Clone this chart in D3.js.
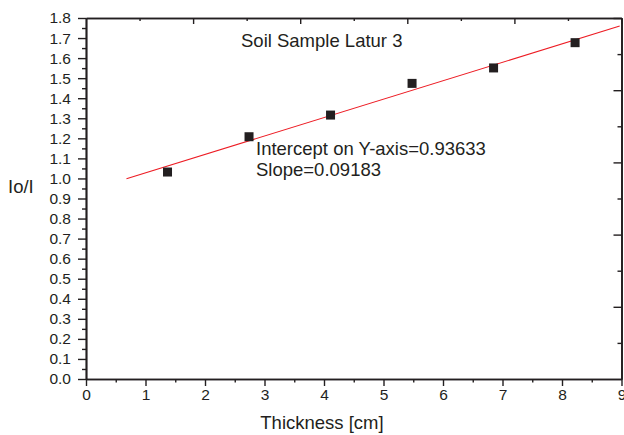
<!DOCTYPE html>
<html>
<head>
<meta charset="utf-8">
<script src="https://cdn.jsdelivr.net/npm/d3@7.9.0/dist/d3.min.js"></script>
<style>
  html, body { margin: 0; padding: 0; background: #fff; }
  svg { display: block; font-family: "Liberation Sans", Arial, Helvetica, sans-serif; }
</style>
</head>
<body>
<svg id="chart" width="624" height="435"></svg>
<script>
// values
const thickness = [1.37, 2.74, 4.11, 5.48, 6.85, 8.22];
const ratio = [1.032, 1.208, 1.316, 1.474, 1.551, 1.677];
const intercept = 0.93633;
const slope = 0.09183;
const fitRange = [0.68, 8.97];

const xTicks = [0, 1, 2, 3, 4, 5, 6, 7, 8, 9];
const xMinor = [0.5, 1.5, 2.5, 3.5, 4.5, 5.5, 6.5, 7.5, 8.5];
const yTicks = [0, 0.1, 0.2, 0.3, 0.4, 0.5, 0.6, 0.7, 0.8, 0.9, 1.0, 1.1, 1.2, 1.3, 1.4, 1.5, 1.6, 1.7, 1.8];
const yMinor = yTicks.slice(0, -1).map((v) => v + 0.05);
const topMajor = [1.8, 3.6, 5.4, 7.2, 9];
const topMinor = [0.9, 2.7, 4.5, 6.3, 8.1];
const rightMajor = [0.36, 0.72, 1.08, 1.44, 1.8];
const rightMinor = [0.18, 0.54, 0.9, 1.26, 1.62];

const ink = '#231f20';
const svg = d3.select('#chart');

const x = d3.scaleLinear().domain([0, 9]).range([86, 621.5]);
const y = d3.scaleLinear().domain([0, 1.8]).range([379, 18]);

function styleAxis(g, size) {
  g.select('.domain').attr('stroke', ink).attr('stroke-width', 1.7);
  g.selectAll('.tick line').attr('stroke', ink).attr('stroke-width', 1.4);
  g.selectAll('.tick text')
    .attr('fill', ink)
    .style('font-size', size + 'px')
    .style('font-family', '"Liberation Sans", Arial, sans-serif');
}

// minor ticks first so major axes draw on top
svg.append('g')
  .attr('transform', 'translate(0,379)')
  .call(d3.axisBottom(x).tickValues(xMinor).tickSize(3.5).tickSizeOuter(0).tickFormat(''))
  .call((g) => styleAxis(g, 15));

svg.append('g')
  .attr('transform', 'translate(86,0)')
  .call(d3.axisLeft(y).tickValues(yMinor).tickSize(4).tickSizeOuter(0).tickFormat(''))
  .call((g) => styleAxis(g, 15));

svg.append('g')
  .attr('transform', 'translate(0,18)')
  .call(d3.axisBottom(x).tickValues(topMinor).tickSize(3).tickSizeOuter(0).tickFormat(''))
  .call((g) => styleAxis(g, 15));

svg.append('g')
  .attr('transform', 'translate(0,18)')
  .call(d3.axisBottom(x).tickValues(topMajor).tickSize(6).tickSizeOuter(0).tickFormat(''))
  .call((g) => styleAxis(g, 15));

svg.append('g')
  .attr('transform', 'translate(621.5,0)')
  .call(d3.axisLeft(y).tickValues(rightMinor).tickSize(4).tickSizeOuter(0).tickFormat(''))
  .call((g) => styleAxis(g, 15));

svg.append('g')
  .attr('transform', 'translate(621.5,0)')
  .call(d3.axisLeft(y).tickValues(rightMajor).tickSize(8).tickSizeOuter(0).tickFormat(''))
  .call((g) => styleAxis(g, 15));

svg.append('g')
  .attr('transform', 'translate(0,379)')
  .call(d3.axisBottom(x).tickValues(xTicks).tickSize(7).tickPadding(3).tickSizeOuter(0).tickFormat(d3.format('d')))
  .call((g) => styleAxis(g, 15.5));

svg.append('g')
  .attr('transform', 'translate(86,0)')
  .call(d3.axisLeft(y).tickValues(yTicks).tickSize(8).tickPadding(7).tickSizeOuter(0).tickFormat(d3.format('.1f')))
  .call((g) => styleAxis(g, 15.5));

// linear fit
const fitLine = d3.line()
  .x((d) => x(d))
  .y((d) => y(intercept + slope * d));

svg.append('path')
  .datum(fitRange)
  .attr('d', fitLine)
  .attr('fill', 'none')
  .attr('stroke', '#ed1c24')
  .attr('stroke-width', 1.1);

// data points
const size = 9;
svg.append('g')
  .selectAll('rect')
  .data(thickness.map((t, i) => ({ t, r: ratio[i] })))
  .join('rect')
  .attr('x', (d) => x(d.t) - size / 2)
  .attr('y', (d) => y(d.r) - size / 2)
  .attr('width', size)
  .attr('height', size)
  .attr('fill', ink);

// labels
svg.append('text')
  .attr('x', 241)
  .attr('y', 47)
  .attr('fill', ink)
  .style('font-size', '18.5px')
  .text('Soil Sample Latur 3');

svg.append('text')
  .attr('x', 256)
  .attr('y', 155)
  .attr('fill', ink)
  .style('font-size', '18.5px')
  .text('Intercept on Y-axis=0.93633');

svg.append('text')
  .attr('x', 256)
  .attr('y', 176)
  .attr('fill', ink)
  .style('font-size', '18.5px')
  .text('Slope=0.09183');

svg.append('text')
  .attr('x', 322)
  .attr('y', 429)
  .attr('text-anchor', 'middle')
  .attr('fill', ink)
  .style('font-size', '18.5px')
  .text('Thickness [cm]');

svg.append('text')
  .attr('x', 8)
  .attr('y', 193)
  .attr('fill', ink)
  .style('font-size', '18.5px')
  .text('Io/I');
</script>
</body>
</html>
